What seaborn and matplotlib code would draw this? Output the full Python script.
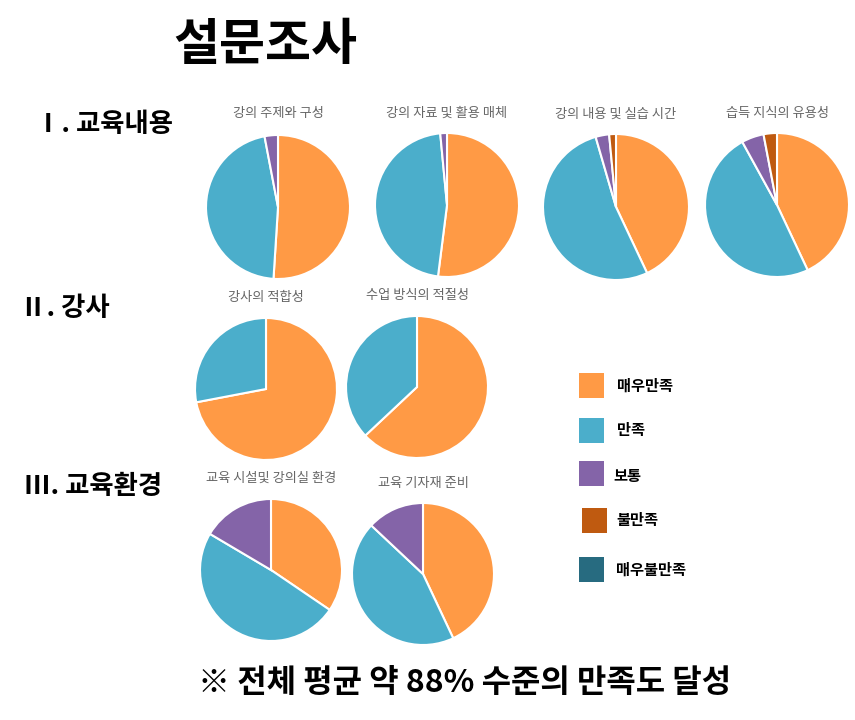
import matplotlib
matplotlib.use("Agg")
import matplotlib.pyplot as plt
from matplotlib.patches import Rectangle
import seaborn as sns

# survey data (share of responses, %), order: 매우만족, 만족, 보통, 불만족, 매우불만족
levels = ["매우만족", "만족", "보통", "불만족", "매우불만족"]
colors = ["#FF9A45", "#4BAECB", "#8464A8", "#BF5A10", "#276B80"]

section_labels = ["Ⅰ. 교육내용", "Ⅱ. 강사", "Ⅲ. 교육환경"]

titles = [
    "강의 주제와 구성", "강의 자료 및 활용 매체", "강의 내용 및 실습 시간", "습득 지식의 유용성",
    "강사의 적합성", "수업 방식의 적절성",
    "교육 시설및 강의실 환경", "교육 기자재 준비",
]
v_subject = [51, 46, 3, 0, 0]
v_material = [52, 46.5, 1.5, 0, 0]
v_practice = [43, 52.5, 3, 1.5, 0]
v_useful = [43, 49, 5, 3, 0]
v_teacher = [72, 28, 0, 0, 0]
v_method = [63, 37, 0, 0, 0]
v_facility = [34.5, 49, 16.5, 0, 0]
v_equipment = [43, 44, 13, 0, 0]
values = [v_subject, v_material, v_practice, v_useful,
          v_teacher, v_method, v_facility, v_equipment]

sns.set_theme(style="white")
plt.rcParams["font.family"] = ["Noto Sans CJK KR", "DejaVu Sans"]

W, H = 855, 720
fig = plt.figure(figsize=(W / 100, H / 100), dpi=100)

# pie layout in pixels: center x, center y, radius, title y
layout = [
    (278, 207, 72, 113), (447, 205, 72, 113), (616, 207, 73, 114), (777, 205, 72, 113),
    (266, 389, 71, 297), (417, 387, 71, 295),
    (271, 570, 71, 478), (423, 574, 71, 483),
]

for (cx, cy, r, ty), vals, title in zip(layout, values, titles):
    ax = fig.add_axes([(cx - r) / W, 1 - (cy + r) / H, 2 * r / W, 2 * r / H])
    keep = [(v, c) for v, c in zip(vals, colors) if v > 0]
    ax.pie([k[0] for k in keep], colors=[k[1] for k in keep], startangle=90,
           counterclock=False, radius=1,
           wedgeprops=dict(edgecolor="white", linewidth=1.5))
    ax.set_xlim(-1, 1)
    ax.set_ylim(-1, 1)
    ax.set_aspect("equal")
    ax.axis("off")
    fig.text(cx / W, 1 - ty / H, title, ha="center", va="center",
             fontsize=9.5, color="#666666")

fig.text(265 / W, 1 - 45 / H, "설문조사", ha="center", va="center",
         fontsize=36, fontweight="bold", color="black")

for (x, y), lab in zip([(35, 125), (20, 308), (24, 487)], section_labels):
    fig.text(x / W, 1 - y / H, lab, ha="left", va="center",
             fontsize=19, fontweight="bold", color="black")

# legend
leg_pos = [(579, 373, 617, 386), (579, 418, 617, 430), (579, 461, 613, 476),
           (582, 508, 616, 520), (579, 557, 616, 570)]
for (sx, sy, lx, ly), lab, col in zip(leg_pos, levels, colors):
    fig.add_artist(Rectangle((sx / W, 1 - (sy + 25) / H), 25 / W, 25 / H,
                             transform=fig.transFigure, facecolor=col,
                             edgecolor="none"))
    fig.text(lx / W, 1 - ly / H, lab, ha="left", va="center",
             fontsize=11, fontweight="bold", color="black")

fig.text(465 / W, 1 - 683 / H, "※ 전체 평균 약 88% 수준의 만족도 달성",
         ha="center", va="center", fontsize=23, fontweight="bold", color="black")

fig.savefig("out.png", dpi=100, facecolor="white")
